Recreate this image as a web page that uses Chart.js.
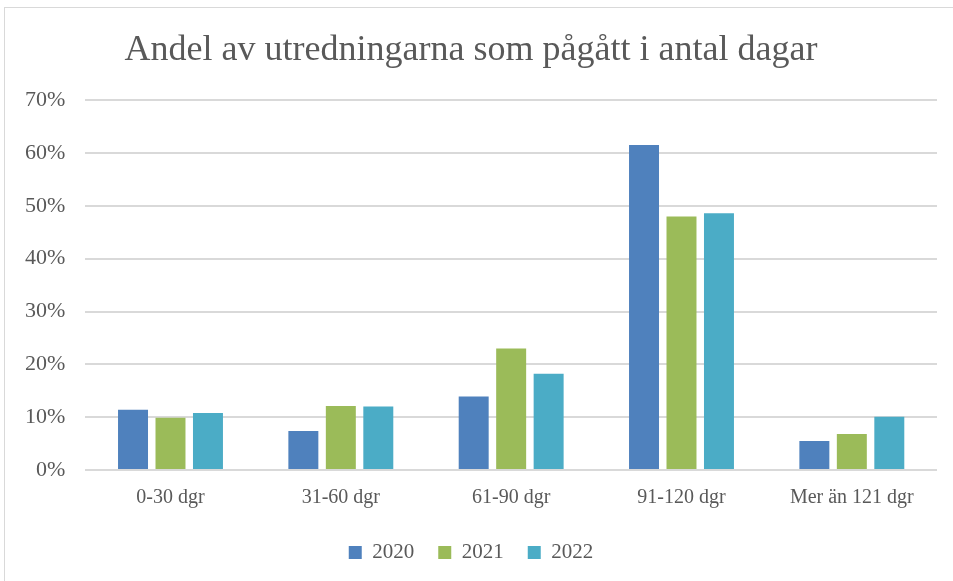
<!DOCTYPE html>
<html lang="sv">
  <head>
    <meta charset="UTF-8" />
    <title>Andel av utredningarna</title>
    <script src="https://cdn.jsdelivr.net/npm/chart.js"></script>
    <style>
      body { margin: 0; background: #fff; }
      .frame {
        position: absolute; left: 4px; top: 7px; width: 960px; height: 590px;
        border: 1px solid #d9d9d9; box-sizing: border-box;
      }
      canvas { position: absolute; left: 0; top: 0; }
    </style>
  </head>
  <body>
    <div class="frame"></div>
    <canvas id="chart" width="953" height="581"></canvas>
    <script>
      const categories = ["0-30 dgr", "31-60 dgr", "61-90 dgr", "91-120 dgr", "Mer än 121 dgr"];
      const years = ["2020", "2021", "2022"];
      const values2020 = [11.4, 7.4, 13.9, 61.5, 5.5];
      const values2021 = [9.9, 12.1, 23.0, 48.0, 6.8];
      const values2022 = [10.8, 12.0, 18.2, 48.6, 10.1];
      const colors = ["#4F81BD", "#9BBB59", "#4BACC6"];

      const font = "'Liberation Serif', 'DejaVu Serif', serif";

      new Chart(document.getElementById("chart"), {
        type: "bar",
        data: {
          labels: categories,
          datasets: [values2020, values2021, values2022].map((vals, i) => ({
            label: years[i],
            data: vals,
            backgroundColor: colors[i],
            categoryPercentage: 0.66,
            barPercentage: 0.8,
          })),
        },
        options: {
          responsive: false,
          animation: false,
          layout: { padding: { left: 5, right: 16, top: 10, bottom: 8 } },
          plugins: {
            title: {
              display: true,
              text: "Andel av utredningarna som pågått i antal dagar",
              color: "#595959",
              font: { family: font, size: 36, weight: "normal" },
              padding: { top: 19, bottom: 28 },
            },
            legend: {
              position: "bottom",
              labels: {
                color: "#595959",
                font: { family: font, size: 21 },
                boxWidth: 13,
                boxHeight: 13,
                padding: 24,
              },
            },
            tooltip: { enabled: false },
          },
          scales: {
            x: {
              grid: { display: false },
              border: { display: false },
              ticks: { color: "#595959", font: { family: font, size: 20 }, padding: 8 },
            },
            y: {
              min: 0,
              max: 70,
              ticks: {
                stepSize: 10,
                color: "#595959",
                font: { family: font, size: 22 },
                padding: 20,
                callback: (v) => v + "%",
              },
              grid: { color: "#d9d9d9", lineWidth: 2, drawTicks: false },
              border: { display: false },
            },
          },
        },
      });
    </script>
  </body>
</html>
